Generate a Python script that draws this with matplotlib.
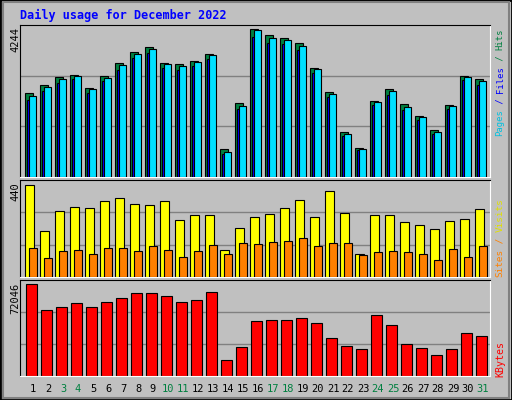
import matplotlib
matplotlib.use("Agg")
import matplotlib.pyplot as plt
from matplotlib.patches import Rectangle

days = list(range(1, 32))
weekend = [3, 4, 10, 11, 17, 18, 24, 25, 31]
hits = [2400,2630,2859,2917,2544,2888,3270,3576,3720,3261,3232,3318,3528,794,2114,4244,4073,3978,3834,3117,2429,1282,823,2171,2515,2085,1741,1339,2056,2888,2802]
files = [2314,2572,2802,2888,2515,2830,3203,3519,3662,3232,3175,3289,3490,708,2028,4207,3978,3920,3748,3089,2372,1225,794,2142,2458,1999,1712,1282,2028,2859,2744]
pages = [2220,2480,2700,2800,2420,2740,3080,3400,3560,3130,3060,3180,3380,650,1940,4020,3850,3800,3640,2990,2280,1170,760,2060,2340,1920,1640,1220,1950,2770,2640]
visits = [440,220,316,335,330,363,378,349,344,363,273,296,296,129,234,287,301,330,368,287,411,306,110,296,296,263,249,230,268,277,325]
sites = [140,91,124,129,110,140,140,124,150,129,96,124,153,110,163,158,167,172,186,150,163,163,105,120,124,120,110,81,134,96,150]
kbytes = [72046,52138,54496,57640,54496,58426,61570,65500,65500,63142,58426,59998,66286,12838,23056,43492,44278,44278,45850,41920,30130,23842,21484,48208,40348,25414,22270,16768,21484,34060,31702]

W, H = 512, 400
fig = plt.figure(figsize=(W/100, H/100), dpi=100)
fig.patch.set_facecolor('#C0C0C0')
fig.patches.append(Rectangle((0, 0), 1, 1, transform=fig.transFigure, fill=False, edgecolor='black', lw=2))
fig.patches.append(Rectangle((0.005, 0.005), 0.99, 0.99, transform=fig.transFigure, fill=False, edgecolor='#808080', lw=1.5))

MONO = 'DejaVu Sans Mono'
fig.text(20/W, 1-15/H, 'Daily usage for December 2022', color='#0000FF', fontsize=8.5,
         fontweight='bold', family=MONO, va='center', ha='left')

x0, x1 = 20, 490
def mkax(top, bot):
    ax = fig.add_axes([x0/W, 1-bot/H, (x1-x0)/W, (bot-top)/H])
    ax.set_facecolor('#C0C0C0')
    ax.set_xlim(0.133, 31.47)
    ax.set_xticks([]); ax.set_yticks([])
    for s in ['top', 'left']:
        ax.spines[s].set_color('black')
    for s in ['bottom', 'right']:
        ax.spines[s].set_color('white')
    return ax

def grid(ax, ymax):
    for f in (1/3, 2/3):
        ax.axhline(ymax*f, color='#808080', lw=1, zorder=0)

def bars(ax, vals, lo, hi, color, z):
    lefts = [d + lo/15 for d in days]
    ax.bar(lefts, vals, width=(hi-lo)/15, align='edge', color=color, edgecolor='black', lw=0.8, zorder=z)

def rlabel(bot, parts, step):
    fs = step / 0.6 * 72 / 100
    y = bot
    for txt, col in parts:
        fig.text(500/W, 1-y/H, txt, rotation=90, color=col, fontsize=fs, family=MONO, ha='center', va='bottom')
        y -= step*len(txt)

# top panel
ax1 = mkax(25, 177)
ymax1 = 4244*152/148
ax1.set_ylim(0, ymax1); grid(ax1, ymax1)
bars(ax1, hits, -8, 0, '#008040', 2)
bars(ax1, pages, -6.3, 1.7, '#0000FF', 3)
bars(ax1, files, -3.7, 3.3, '#00E0FF', 4)
fig.text(15/W, 1-27/H, '4244', rotation=90, fontsize=7.5, family=MONO, ha='center', va='top')
rlabel(136, [('Pages', '#00C0E0'), (' / ', '#0000FF'), ('Files', '#0000FF'), (' / ', '#008040'), ('Hits', '#008040')], 5.35)

# middle panel
ax2 = mkax(180, 277)
ymax2 = 440*97/92
ax2.set_ylim(0, ymax2); grid(ax2, ymax2)
bars(ax2, visits, -8, 0.7, '#FFFF00', 2)
bars(ax2, sites, -4, 3.7, '#FF8000', 3)
fig.text(15/W, 1-182/H, '440', rotation=90, fontsize=7.5, family=MONO, ha='center', va='top')
rlabel(277, [('Sites', '#FF8000'), (' / ', '#FF8000'), ('Visits', '#E0E000')], 5.65)

# bottom panel
ax3 = mkax(280, 376)
ymax3 = 72046*96/91.7
ax3.set_ylim(0, ymax3); grid(ax3, ymax3)
bars(ax3, kbytes, -6.7, 3.7, '#FF0000', 2)
fig.text(15/W, 1-283/H, '72046', rotation=90, fontsize=7.5, family=MONO, ha='center', va='top')
rlabel(377, [('KBytes', '#FF0000')], 6)

for d in days:
    xp = 33 + 15*(d-1)
    fig.text(xp/W, 1-389/H, str(d), color='#008040' if d in weekend else 'black',
             fontsize=7.5, family=MONO, ha='center', va='center')

fig.savefig('out.png', dpi=100, facecolor=fig.get_facecolor())
